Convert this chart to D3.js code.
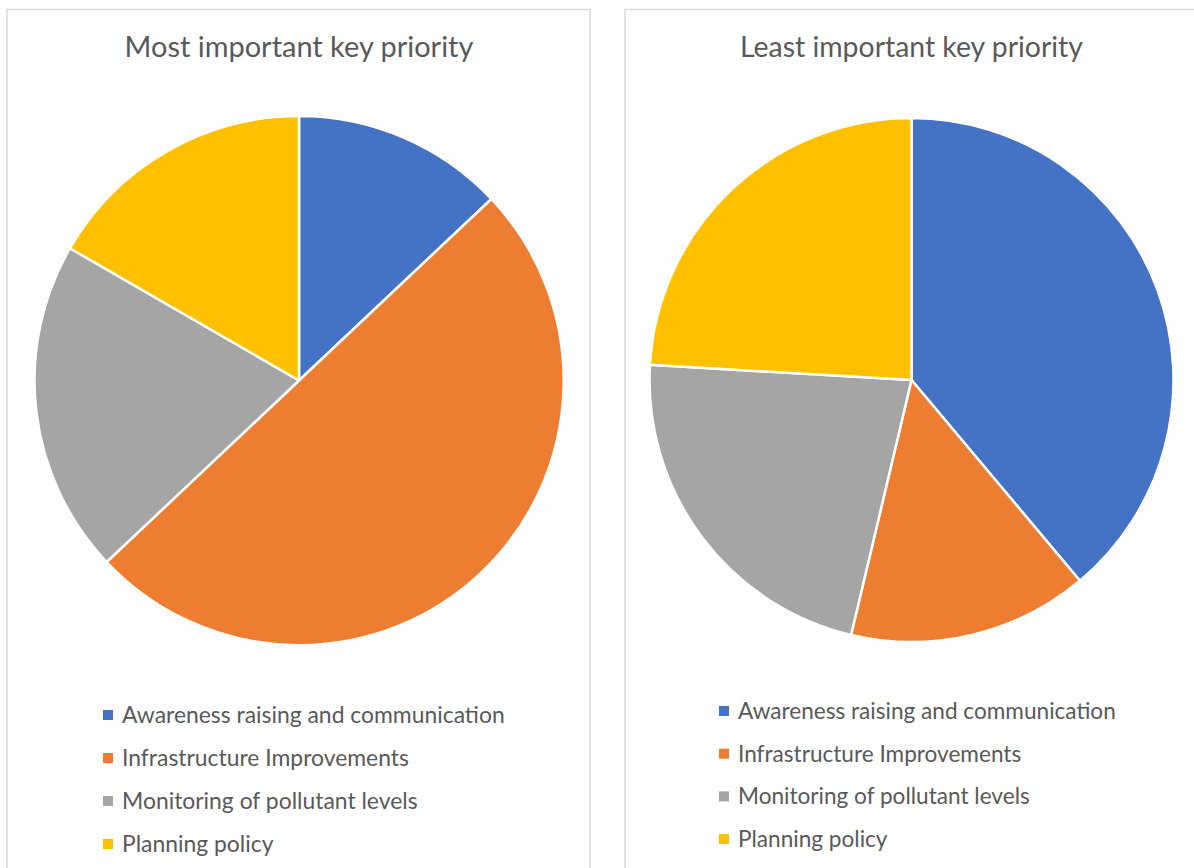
<!DOCTYPE html>
<html>
<head>
<meta charset="utf-8">
<script src="https://cdn.jsdelivr.net/npm/d3@7"></script>
<style>
  html, body { margin: 0; padding: 0; background: #ffffff; }
  svg { display: block; }
</style>
</head>
<body>
<svg id="chart" width="1194" height="868"></svg>
<script>
// Survey responses: number of respondents choosing each priority
const categories = [
  "Awareness raising and communication",
  "Infrastructure Improvements",
  "Monitoring of pollutant levels",
  "Planning policy"
];
const mostImportant = [7, 27, 11, 9];
const leastImportant = [21, 8, 12, 13];
const chartTitles = ["Most important key priority", "Least important key priority"];
const palette = ["#4472C4", "#ED7D31", "#A5A5A5", "#FFC000"];

const svg = d3.select("#chart");
const fontFamily = "Lato, 'Open Sans', 'Liberation Sans', sans-serif";

const color = d3.scaleOrdinal().domain(categories).range(palette);

const panels = [
  { title: chartTitles[0], values: mostImportant,
    box: { x: 7, y: 9.5, w: 583, h: 900 },
    cx: 299, cy: 380.5, r: 264.5, titleY: 57, titleW: 349,
    legendX: 103, legendY: 715, legendStep: 43, legendW: 383 },
  { title: chartTitles[1], values: leastImportant,
    box: { x: 625, y: 9.5, w: 600, h: 900 },
    cx: 911.5, cy: 380, r: 262, titleY: 57, titleW: 343,
    legendX: 719, legendY: 711, legendStep: 42.7, legendW: 378 }
];

// Fit a font size so a text reaches the given width
function fitSize(text, width, probe) {
  probe.text(text).attr("font-size", 100);
  const w = probe.node().getComputedTextLength();
  return 100 * width / w;
}
const probe = svg.append("text").attr("font-family", fontFamily).attr("visibility", "hidden");

panels.forEach(p => {
  const g = svg.append("g");

  g.append("rect")
    .attr("x", p.box.x).attr("y", p.box.y)
    .attr("width", p.box.w).attr("height", p.box.h)
    .attr("fill", "#ffffff")
    .attr("stroke", "#d9d9d9").attr("stroke-width", 1.5);

  const titleSize = fitSize(p.title, p.titleW, probe);
  g.append("text")
    .attr("x", p.cx).attr("y", p.titleY)
    .attr("text-anchor", "middle")
    .attr("font-family", fontFamily)
    .attr("font-size", titleSize)
    .attr("fill", "#595959")
    .text(p.title);

  const pie = d3.pie().sort(null).startAngle(0).endAngle(2 * Math.PI);
  const arc = d3.arc().innerRadius(0).outerRadius(p.r);

  const data = pie(p.values).map((d, i) => ({ ...d, cat: categories[i] }));

  g.append("g")
    .attr("transform", `translate(${p.cx},${p.cy})`)
    .selectAll("path")
    .data(data)
    .join("path")
    .attr("d", arc)
    .attr("fill", d => color(d.cat))
    .attr("stroke", "#ffffff")
    .attr("stroke-width", 2.5)
    .attr("stroke-linejoin", "round");

  const legendSize = fitSize(categories[0], p.legendW, probe);
  const leg = g.append("g");
  const rows = leg.selectAll("g")
    .data(categories)
    .join("g")
    .attr("transform", (d, i) => `translate(${p.legendX},${p.legendY + i * p.legendStep})`);

  rows.append("rect")
    .attr("x", 0).attr("y", -5)
    .attr("width", 10).attr("height", 10)
    .attr("fill", d => color(d));

  rows.append("text")
    .attr("x", 19).attr("y", 0)
    .attr("dy", "0.35em")
    .attr("font-family", fontFamily)
    .attr("font-size", legendSize)
    .attr("fill", "#595959")
    .text(d => d);
});

probe.remove();
</script>
</body>
</html>
